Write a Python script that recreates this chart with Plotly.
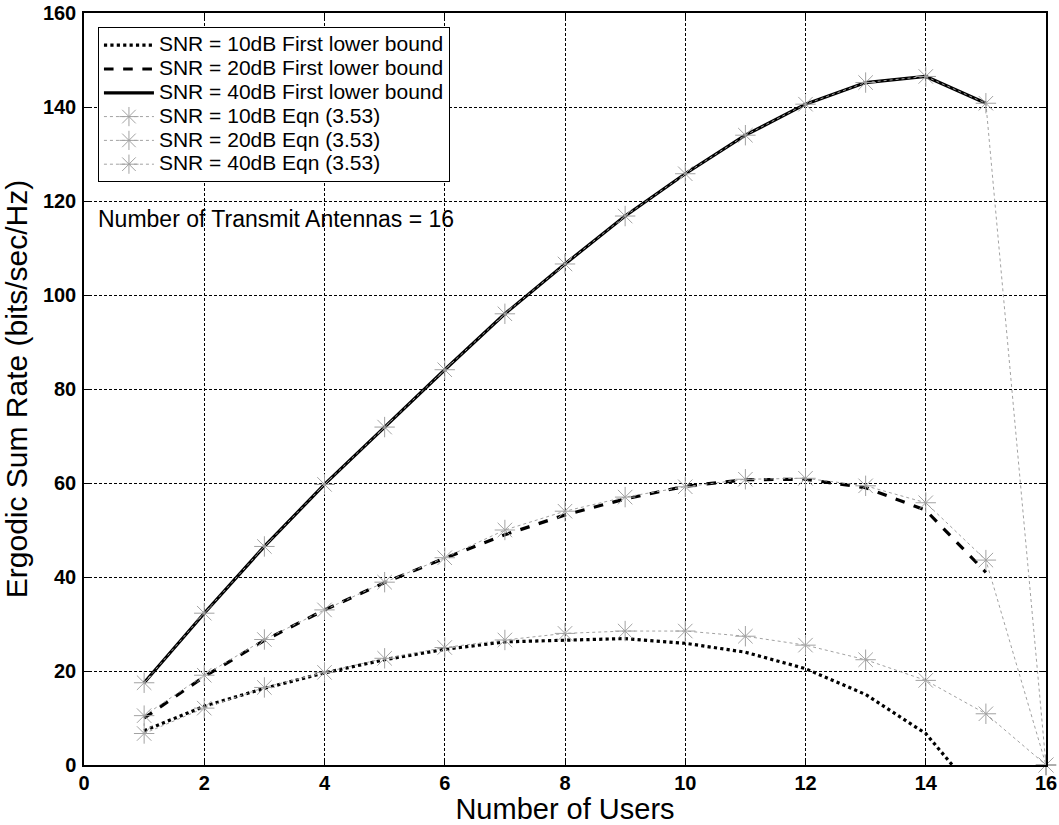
import plotly.graph_objects as go

# Number of users served by a 16-antenna transmitter
users = list(range(1, 17))
users_lb = list(range(1, 16))

# First lower bound on the ergodic sum rate (bits/sec/Hz)
lb_10db = [7.3, 12.5, 16.3, 19.6, 22.4, 24.6, 26.2, 26.6, 26.9, 25.9, 24.0, 20.5, 15.0, 6.7, -8.5]
lb_20db = [10.0, 18.8, 26.5, 33.0, 38.8, 44.0, 49.0, 53.2, 56.6, 59.3, 60.7, 60.8, 59.0, 54.2, 41.0]
lb_40db = [17.5, 32.3, 46.5, 59.7, 71.9, 84.1, 96.0, 106.6, 116.8, 125.8, 134.0, 140.6, 145.2, 146.5, 140.8]

# Sum rate from Eqn (3.53)
eq_10db = [6.7, 12.1, 16.5, 19.7, 22.7, 25.0, 26.6, 28.0, 28.5, 28.5, 27.4, 25.5, 22.4, 18.0, 10.9, 0.0]
eq_20db = [10.5, 19.1, 26.7, 33.0, 38.9, 44.1, 50.0, 54.0, 57.0, 59.2, 60.8, 61.0, 59.4, 55.8, 43.6, 0.0]
eq_40db = [17.5, 32.3, 46.5, 59.7, 71.9, 84.1, 96.0, 106.6, 116.8, 125.8, 134.0, 140.6, 145.2, 146.5, 140.8, 0.0]

x_ticks = list(range(0, 17, 2))
y_ticks = list(range(0, 161, 20))

FONT = "Arial, Liberation Sans, sans-serif"
GRAY = "#a2a2a2"


def legend_label(text):
    # larger glyphs while keeping the compact legend row height
    return '<span style="font-size:21px">' + text + "</span>"


fig = go.Figure()

for name, vals, dash in [
    ("SNR = 10dB First lower bound", lb_10db, "dot"),
    ("SNR = 20dB First lower bound", lb_20db, "dash"),
    ("SNR = 40dB First lower bound", lb_40db, "solid"),
]:
    fig.add_trace(go.Scatter(
        x=users_lb, y=vals, mode="lines", name=legend_label(name),
        line=dict(color="black", width=3.2, dash=dash),
    ))

for name, vals in [
    ("SNR = 10dB Eqn (3.53)", eq_10db),
    ("SNR = 20dB Eqn (3.53)", eq_20db),
    ("SNR = 40dB Eqn (3.53)", eq_40db),
]:
    fig.add_trace(go.Scatter(
        x=users, y=vals, mode="lines+markers", name=legend_label(name),
        line=dict(color=GRAY, width=1, dash="dot"),
        marker=dict(symbol="asterisk-open", size=17, color=GRAY,
                    line=dict(color=GRAY, width=1)),
        cliponaxis=False,
    ))

axis_common = dict(
    showline=True, linecolor="black", linewidth=1.5, mirror="ticks",
    ticks="inside", ticklen=7, tickwidth=1.2, tickcolor="black",
    showgrid=True, gridcolor="black", gridwidth=1, griddash="3px,2px",
    zeroline=False,
    tickfont=dict(family=FONT, size=20, color="black", weight="bold"),
)

fig.update_xaxes(
    range=[0, 16], tickvals=x_ticks, ticktext=[str(v) for v in x_ticks],
    title=dict(text="Number of Users", font=dict(family=FONT, size=29, color="black"), standoff=3),
    ticklabelstandoff=-1,
    **axis_common,
)
fig.update_yaxes(
    range=[0, 160], tickvals=y_ticks, ticktext=[str(v) for v in y_ticks],
    title=dict(text="Ergodic Sum Rate (bits/sec/Hz)", font=dict(family=FONT, size=30, color="black"), standoff=6),
    ticklabelstandoff=2,
    **axis_common,
)

fig.add_annotation(
    text="Number of Transmit Antennas = 16",
    xref="paper", yref="paper", x=0.0125, y=0.726,
    xanchor="left", yanchor="middle", showarrow=False,
    font=dict(family=FONT, size=23, color="black"),
)

fig.update_layout(
    width=1059, height=825,
    margin=dict(l=84, r=13, t=13, b=60, autoexpand=False),
    paper_bgcolor="white", plot_bgcolor="white",
    showlegend=True,
    legend=dict(
        x=0.0145, y=0.981, xanchor="left", yanchor="top",
        bgcolor="white", bordercolor="black", borderwidth=1,
        font=dict(family=FONT, size=16, color="black"),
        itemwidth=50, tracegroupgap=0,
    ),
)

fig.write_html("out.html")
